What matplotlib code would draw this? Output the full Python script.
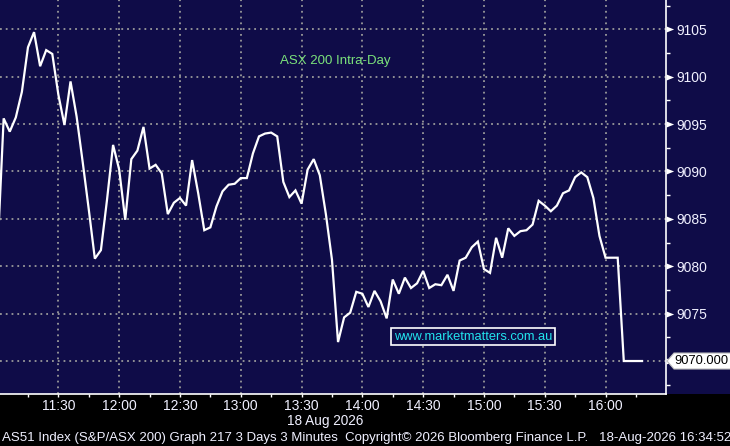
import matplotlib
matplotlib.use("Agg")
import matplotlib.pyplot as plt
import matplotlib.dates as mdates
import matplotlib.transforms as mtransforms
from matplotlib.path import Path
from matplotlib.patches import Polygon, Rectangle
import pandas as pd

# ---------------- data ----------------
session_date = "2026-08-18"
bar_start = "11:00"
bar_minutes = 3
prices = [
    9081.6, 9095.6, 9094.2, 9095.7, 9098.4, 9103.1, 9104.7, 9101.1, 9102.8, 9102.4,
    9098.1, 9094.9, 9099.5, 9095.8, 9091.0, 9086.0, 9080.8, 9081.7, 9087.0, 9092.8,
    9090.2, 9084.9, 9091.3, 9092.2, 9094.7, 9090.3, 9090.7, 9089.8, 9085.5, 9086.7,
    9087.2, 9086.4, 9091.2, 9087.7, 9083.8, 9084.1, 9086.3, 9087.9, 9088.6, 9088.7,
    9089.3, 9089.3, 9091.9, 9093.7, 9094.0, 9094.1, 9093.7, 9088.9, 9087.3, 9088.0,
    9086.6, 9090.2, 9091.3, 9089.6, 9085.5, 9080.7, 9072.0, 9074.6, 9075.1, 9077.3,
    9077.1, 9075.7, 9077.4, 9076.3, 9074.5, 9078.6, 9077.1, 9078.8, 9077.7, 9078.2,
    9079.5, 9077.7, 9078.1, 9078.0, 9079.1, 9077.4, 9080.6, 9080.9, 9082.0, 9082.6,
    9079.7, 9079.3, 9083.0, 9080.9, 9084.0, 9083.2, 9083.7, 9083.8, 9084.4, 9086.9,
    9086.4, 9085.8, 9086.4, 9087.7, 9088.0, 9089.4, 9089.9, 9089.4, 9087.2, 9083.2,
    9080.9, 9080.9, 9080.9, 9070.0, 9070.0, 9070.0, 9070.0,
]
y_ticks = [9070, 9075, 9080, 9085, 9090, 9095, 9100, 9105]
x_start = "11:01"
x_end = "16:29:50"
title_text = "ASX 200 Intra-Day"
url_text = "www.marketmatters.com.au"
date_label = "18 Aug 2026"
footer = ("AS51 Index (S&P/ASX 200) Graph 217 3 Days 3 Minutes  "
          "Copyright\u00a9 2026 Bloomberg Finance L.P.   18-Aug-2026 16:34:52")

# ---------------- style ----------------
NAVY = "#0f0c48"
GRID = "#9a9a9a"
FONT = "Liberation Sans"
plt.rcParams["font.family"] = [FONT, "DejaVu Sans"]

times = pd.date_range(f"{session_date} {bar_start}", periods=len(prices),
                      freq=f"{bar_minutes}min")

W, H = 730, 446
fig = plt.figure(figsize=(W / 100, H / 100), dpi=100, facecolor="black")
ax_bottom_px = 394
ax = fig.add_axes([0, (H - ax_bottom_px) / H, 666 / W, ax_bottom_px / H])
ax.set_facecolor(NAVY)
fig.patches.append(Rectangle((0, (H - ax_bottom_px) / H), 1, ax_bottom_px / H,
                             transform=fig.transFigure, facecolor=NAVY,
                             edgecolor="none", zorder=-5))

ax.plot(times, prices, color="white", lw=1.6, zorder=3, solid_joinstyle="miter")

ax.set_xlim(pd.Timestamp(f"{session_date} {x_start}") + pd.Timedelta(seconds=12),
            pd.Timestamp(f"{session_date} {x_end}"))
ax.set_ylim(9066.52, 9108.09)

# axes / ticks
ax.xaxis.set_major_locator(mdates.MinuteLocator(byminute=[0, 30]))
ax.xaxis.set_minor_locator(mdates.MinuteLocator(byminute=[15, 45]))
ax.xaxis.set_major_formatter(mdates.DateFormatter("%H:%M"))
ax.yaxis.tick_right()
ax.set_yticks(y_ticks)
ax.set_yticklabels([str(v) if v != y_ticks[0] else "" for v in y_ticks])
ax.yaxis.set_minor_locator(matplotlib.ticker.MultipleLocator(2.5))

ax.tick_params(axis="x", which="both", direction="out", length=2.5, width=1,
               color="white", labelcolor="#f0f0ff", labelsize=10, pad=1)
ax.tick_params(axis="y", which="major", length=0, labelcolor="#f0f0ff",
               labelsize=10, pad=7.5)
ax.tick_params(axis="y", which="minor", direction="out", length=3, width=1,
               color="white")

for s in ["top", "left"]:
    ax.spines[s].set_visible(False)
for s in ["right", "bottom"]:
    ax.spines[s].set_color("white")
    ax.spines[s].set_linewidth(1.2)

ax.grid(True, which="major", color=GRID, linestyle=(0, (1, 2.2)), linewidth=1.3)
ax.set_axisbelow(True)

# triangle tick markers on the right axis
tri = Path([(0, -0.4), (1, 0), (0, 0.4), (0, -0.4)],
           [Path.MOVETO, Path.LINETO, Path.LINETO, Path.CLOSEPOLY])
ax.plot([1] * len(y_ticks), y_ticks, linestyle="none", marker=tri,
        markersize=11, color="white", markeredgewidth=0,
        transform=ax.get_yaxis_transform(), clip_on=False, zorder=5)

# annotations
ax.text(0.503, 1 - 61 / 394, title_text, transform=ax.transAxes, color="#7be37b",
        fontsize=9.5, ha="center", va="center")
ax.text(473 / 666, (394 - 336.5) / 394, url_text, transform=ax.transAxes,
        color="#22e4ee", fontsize=9.3, ha="center", va="center",
        bbox=dict(boxstyle="square,pad=0.2", facecolor=NAVY, edgecolor="white",
                  linewidth=1.2))

fig.text(325 / W, 1 - 421 / H, date_label, color="#f0f0ff", fontsize=9.8,
         ha="center", va="center")
fig.text(2 / W, 1 - 438 / H, footer, color="#f0f0ff", fontsize=9.5,
         ha="left", va="center")

# last value label
fig.canvas.draw()
last = prices[-1]
_, yd = ax.transData.transform((mdates.date2num(times[-1]), last))
xs = 667
poly = Polygon([(xs, yd), (xs + 7, yd - 8), (W + 2, yd - 8), (W + 2, yd + 8),
                (xs + 7, yd + 8)], closed=True, facecolor="white",
               edgecolor="#bbbbbb", linewidth=0.8,
               transform=mtransforms.IdentityTransform(), zorder=10)
fig.patches.append(poly)
fig.text((xs + 7) / W, yd / H, f"{last:.3f}", color="black", fontsize=9.3,
         ha="left", va="center", zorder=11)

fig.savefig("out.png", dpi=100, facecolor="black")
